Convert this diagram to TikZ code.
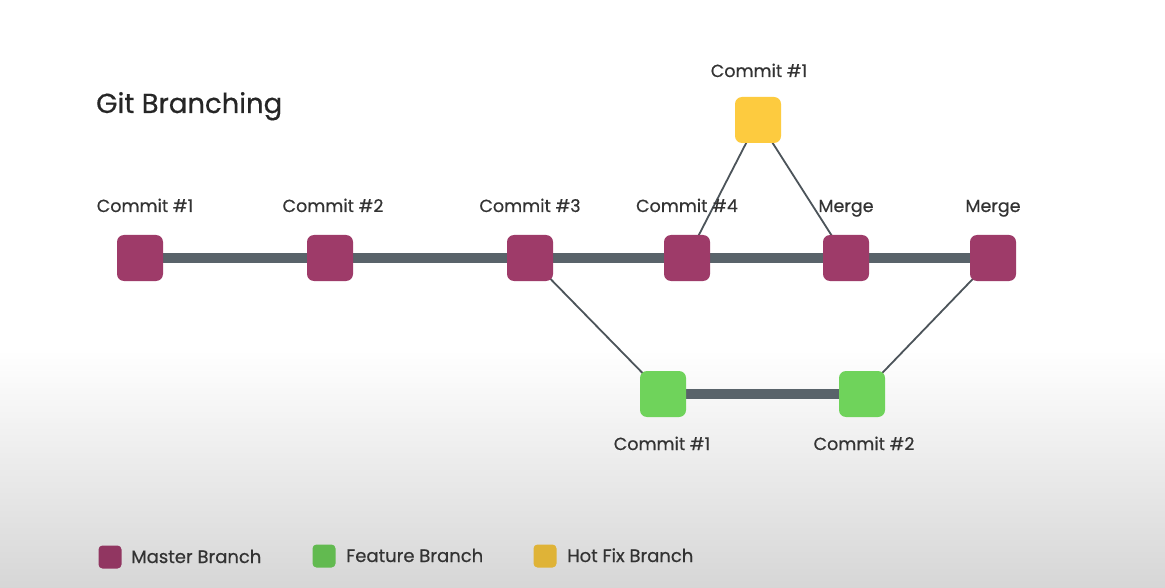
\documentclass[tikz,border=0pt]{standalone}
\usepackage{fontspec}
\setmainfont{Poppins}[FakeBold=0.5]
\usetikzlibrary{backgrounds}
\definecolor{masterc}{HTML}{9E3B69}
\definecolor{featurec}{HTML}{6FD35B}
\definecolor{hotfixc}{HTML}{FDCB3F}
\definecolor{linec}{HTML}{59636A}
\definecolor{textc}{HTML}{333333}

\begin{document}
\begin{tikzpicture}[x=1pt, y=-1pt,
    commit/.style={rounded corners=7pt, minimum size=46pt, inner sep=0pt},
    master/.style={commit, fill=masterc},
    feature/.style={commit, fill=featurec},
    hotfix/.style={commit, fill=hotfixc},
    trunk/.style={line width=10pt, linec},
    fork/.style={line width=1.8pt, linec!85!black},
    lbl/.style={anchor=base, inner sep=0pt, text=textc, font=\fontsize{17.5}{20}\selectfont},
    key/.style={rounded corners=4pt, minimum size=23pt, inner sep=0pt},
    keytext/.style={anchor=base west, inner sep=0pt, text=textc, font=\fontsize{18}{21}\selectfont}]

        % page and grey fade at the bottom
        \useasboundingbox (0,0) rectangle (1165,588);
        \begin{scope}[on background layer]
            \fill[white] (0,0) rectangle (1165,350);
            \shade[top color=white, bottom color=gray!32] (0,350) rectangle (1165,588);
        \end{scope}

        % title
        \node[anchor=base west, text=black!85, font=\fontsize{27.5}{32}\selectfont, inner sep=0pt] (title) at (96,113) {Git Branching};

        % master branch
        \node[master] (m1) at (140,258) {};
        \node[master] (m2) at (330,258) {};
        \node[master] (m3) at (530,258) {};
        \node[master] (m4) at (687,258) {};
        \node[master] (m5) at (846,258) {};
        \node[master] (m6) at (993,258) {};

        % feature branch
        \node[feature] (f1) at (663,394) {};
        \node[feature] (f2) at (862,394) {};

        % hot fix branch
        \node[hotfix] (h1) at (758,120) {};

        % connectors behind the commits
        \begin{scope}[on background layer]
            \draw[trunk] (m1) -- (m6);
            \draw[trunk] (f1) -- (f2);
            \draw[fork] (m3.center) -- (f1.center);
            \draw[fork] (f2.center) -- (m6.center);
            \draw[fork] (m4.center) -- (h1.center);
            \draw[fork] (h1.center) -- (m5.center);
        \end{scope}

        % commit labels
        \node[lbl] (lm1) at (145,212) {Commit \#1};
        \node[lbl] (lm2) at (333,212) {Commit \#2};
        \node[lbl] (lm3) at (530,212) {Commit \#3};
        \node[lbl] (lm4) at (687,212) {Commit \#4};
        \node[lbl] (lm5) at (846,212) {Merge};
        \node[lbl] (lm6) at (993,212) {Merge};
        \node[lbl] (lh1) at (759,77) {Commit \#1};
        \node[lbl] (lf1) at (662,450) {Commit \#1};
        \node[lbl] (lf2) at (864,450) {Commit \#2};

        % legend
        \node[key, fill=masterc!92!black] (km) at (110,557) {};
        \node[keytext] (tm) at (131,563) {Master Branch};
        \node[key, fill=featurec!88!black] (kf) at (324,556) {};
        \node[keytext] (tf) at (346,562) {Feature Branch};
        \node[key, fill=hotfixc!88!black] (kh) at (545,556) {};
        \node[keytext] (th) at (567,562) {Hot Fix Branch};

\end{tikzpicture}
\end{document}
